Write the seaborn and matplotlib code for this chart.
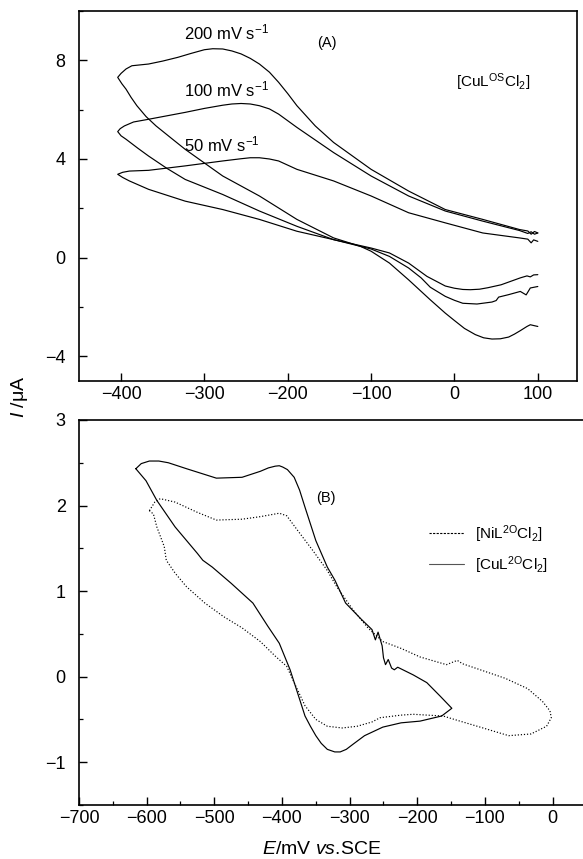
"""Cyclic voltammograms: scan-rate series (A) and Ni/Cu comparison (B)."""

import matplotlib
matplotlib.use("Agg")
import matplotlib.pyplot as plt
from matplotlib.lines import Line2D
from matplotlib.ticker import MultipleLocator
import seaborn as sns


# panel A: [CuL(OS)Cl2] at three scan rates, path goes 100 mV -> -404 mV -> 100 mV
E_200 = [100, 96, 92, 88, 78, 34, -11, -55, -100, -145, -167, -189, -200, -211, -222, -234,
         -245, -256, -267, -278, -290, -300, -316, -332, -350, -367, -387, -394, -400, -404,
         -399, -394, -388, -381, -370, -358, -340, -323, -278, -234, -189, -145, -113, -100,
         -78, -55, -29, -11, 0, 12, 25, 35, 45, 55, 65, 72, 79, 87, 91, 96, 100]
I_200 = [1.0, 1.06, 0.95, 1.08, 1.14, 1.55, 1.95, 2.70, 3.58, 4.67, 5.34, 6.16, 6.65, 7.11, 7.52, 7.85,
         8.08, 8.26, 8.38, 8.46, 8.47, 8.43, 8.28, 8.12, 7.97, 7.85, 7.78, 7.65, 7.47, 7.31,
         7.05, 6.83, 6.50, 6.16, 5.72, 5.34, 4.85, 4.39, 3.31, 2.50, 1.55, 0.80, 0.46, 0.26,
         -0.22, -0.90, -1.71, -2.25, -2.55, -2.87, -3.12, -3.25, -3.30, -3.29, -3.22, -3.10, -2.96,
         -2.79, -2.72, -2.76, -2.79]

E_100 = [100, 96, 92, 88, 78, 34, -11, -55, -100, -145, -189, -211, -222, -234, -245, -256,
         -267, -278, -300, -323, -367, -385, -396, -401, -404,
         -400, -394, -380, -367, -345, -323, -278, -234, -189, -145, -100, -78, -55, -40, -29,
         -11, 0, 10, 27, 45, 50, 53, 65, 79, 86, 91, 100]
I_100 = [1.0, 0.95, 1.05, 0.98, 1.10, 1.48, 1.89, 2.50, 3.31, 4.26, 5.28, 5.82, 6.03, 6.16, 6.23, 6.25,
         6.23, 6.18, 6.05, 5.89, 5.61, 5.50, 5.34, 5.23, 5.11,
         4.94, 4.80, 4.44, 4.12, 3.62, 3.17, 2.56, 1.89, 1.27, 0.73, 0.35, 0.05, -0.42, -0.82, -1.20,
         -1.57, -1.73, -1.85, -1.88, -1.80, -1.74, -1.60, -1.50, -1.37, -1.51, -1.23, -1.17]

E_50 = [100, 95, 92, 88, 78, 34, -11, -55, -100, -145, -189, -211, -222, -234, -245, -256,
        -278, -323, -367, -390, -398, -404,
        -398, -390, -367, -323, -278, -234, -189, -145, -100, -78, -55, -33, -11, 0, 10, 19,
        30, 40, 56, 79, 87, 91, 95, 100]
I_50 = [0.66, 0.72, 0.60, 0.75, 0.80, 1.00, 1.41, 1.82, 2.50, 3.11, 3.58, 3.92, 4.00, 4.05, 4.05, 4.01,
        3.92, 3.72, 3.54, 3.51, 3.46, 3.38,
        3.25, 3.11, 2.77, 2.29, 1.95, 1.55, 1.07, 0.73, 0.39, 0.19, -0.22, -0.76, -1.15, -1.24, -1.29, -1.30,
        -1.28, -1.22, -1.10, -0.82, -0.74, -0.78, -0.70, -0.69]

RATE_LABELS = ["200 mV s$^{-1}$", "100 mV s$^{-1}$", "50 mV s$^{-1}$"]

# panel B: [CuL(2O)Cl2] (solid) and [NiL(2O)Cl2] (dotted)
E_CU = [-616, -608, -596, -582, -568, -541, -497, -459, -432, -420, -410, -404, -399, -392,
        -382, -374, -366, -350, -333, -322, -306, -284, -267, -262, -258, -252, -250, -247,
        -243, -238, -234, -229, -206, -186, -166, -149,
        -164, -196, -224, -251, -278, -295, -305, -314, -322, -333, -342, -350, -358, -366,
        -377, -388, -404, -421, -443, -475, -503, -517, -525, -558, -585, -601, -616]
I_CU = [2.43, 2.49, 2.52, 2.52, 2.50, 2.43, 2.32, 2.33, 2.40, 2.44, 2.46, 2.465, 2.45, 2.42,
        2.33, 2.18, 1.98, 1.59, 1.28, 1.13, 0.86, 0.68, 0.55, 0.43, 0.52, 0.36, 0.22, 0.14,
        0.20, 0.10, 0.08, 0.11, 0.02, -0.07, -0.23, -0.37,
        -0.46, -0.52, -0.54, -0.59, -0.69, -0.79, -0.85, -0.88, -0.88, -0.85, -0.78, -0.69, -0.58, -0.46,
        -0.19, 0.08, 0.39, 0.59, 0.86, 1.09, 1.28, 1.36, 1.44, 1.75, 2.06, 2.29, 2.43]

E_NI = [-596, -588, -580, -558, -525, -497, -459, -432, -404, -393, -377, -355, -333, -319, -295,
        -273, -251, -224, -196, -157, -141, -133, -107, -70, -37, -15, -4, -2,
        -9, -32, -65, -103, -137, -162, -185, -206, -224, -255, -267, -289, -311, -333, -350,
        -366, -382, -393, -410, -432, -459, -486, -514, -541, -558, -571, -574, -585, -590, -596]
I_NI = [1.94, 2.04, 2.08, 2.04, 1.92, 1.83, 1.84, 1.87, 1.91, 1.88, 1.71, 1.48, 1.24, 1.05, 0.78,
        0.57, 0.41, 0.33, 0.23, 0.14, 0.19, 0.15, 0.08, -0.02, -0.14, -0.29, -0.40, -0.48,
        -0.58, -0.67, -0.69, -0.60, -0.52, -0.46, -0.45, -0.44, -0.45, -0.48, -0.53, -0.58, -0.60, -0.58, -0.50,
        -0.34, -0.07, 0.12, 0.24, 0.41, 0.57, 0.70, 0.86, 1.05, 1.21, 1.36, 1.52, 1.75, 1.90, 1.94]

DOTTED = (0, (1, 1.6))


def setup_style():
    sns.set_theme(style="ticks")
    plt.rcParams["font.family"] = ["Liberation Sans", "DejaVu Sans"]
    plt.rcParams["mathtext.fontset"] = "custom"
    plt.rcParams["mathtext.rm"] = "Liberation Sans"
    plt.rcParams["mathtext.it"] = "Liberation Sans:italic"
    plt.rcParams["mathtext.bf"] = "Liberation Sans:bold"
    plt.rcParams["text.color"] = "black"
    plt.rcParams["axes.edgecolor"] = "black"
    plt.rcParams["axes.linewidth"] = 1.2


def style_axis(ax):
    ax.tick_params(which="both", direction="in", colors="black", labelsize=13,
                   top=False, right=False)
    ax.tick_params(which="major", length=6, width=1.0)
    ax.tick_params(which="minor", length=3, width=0.9)
    ax.tick_params(axis="x", pad=3.5)
    ax.tick_params(axis="y", pad=9.5)
    ax.set_xlabel("")
    ax.set_ylabel("")


def draw(ax, e, i, **kw):
    sns.lineplot(x=e, y=i, ax=ax, sort=False, estimator=None, color="black",
                 linewidth=0.85, legend=False, **kw)


def main():
    setup_style()
    fig = plt.figure(figsize=(5.83, 8.59), dpi=100)
    ax_a = fig.add_axes([0.1347, 0.5565, 0.855, 0.4307])
    ax_b = fig.add_axes([0.1355, 0.0629, 0.8937, 0.4482])

    # (A)
    for e, i in [(E_200, I_200), (E_100, I_100), (E_50, I_50)]:
        draw(ax_a, e, i)
    ax_a.set_xlim(-451, 147)
    ax_a.set_ylim(-5, 10)
    ax_a.xaxis.set_major_locator(MultipleLocator(100))
    ax_a.yaxis.set_major_locator(MultipleLocator(4))
    ax_a.yaxis.set_minor_locator(MultipleLocator(2))
    style_axis(ax_a)
    for lab, y in zip(RATE_LABELS, [9.13, 6.81, 4.57]):
        ax_a.text(-324, y, lab, fontsize=12, va="center", ha="left")
    ax_a.text(-165, 8.72, "(A)", fontsize=10.5, va="center", ha="left")
    ax_a.text(2, 7.12, r"[CuL$^{\mathrm{OS}}$Cl$_2$]", fontsize=11, va="center", ha="left")

    # (B)
    draw(ax_b, E_NI, I_NI, linestyle=DOTTED)
    draw(ax_b, E_CU, I_CU)
    ax_b.set_xlim(-700, 70)
    ax_b.set_ylim(-1.5, 3)
    ax_b.xaxis.set_major_locator(MultipleLocator(100))
    ax_b.xaxis.set_minor_locator(MultipleLocator(50))
    ax_b.yaxis.set_major_locator(MultipleLocator(1))
    ax_b.yaxis.set_minor_locator(MultipleLocator(0.5))
    style_axis(ax_b)
    ax_b.text(-350, 2.09, "(B)", fontsize=10.5, va="center", ha="left")
    handles = [Line2D([], [], color="black", lw=0.8, ls=(0, (2, 1.2))),
               Line2D([], [], color="#555555", lw=0.8)]
    ax_b.legend(handles, [r"[NiL$^{\mathrm{2O}}$Cl$_2$]", r"[CuL$^{\mathrm{2O}}$Cl$_2$]"],
                loc="upper left", bbox_to_anchor=(0.672, 0.732), frameon=False,
                fontsize=11, handlelength=2.3, handletextpad=0.7, labelspacing=0.6,
                borderpad=0, borderaxespad=0)

    fig.text(0.034, 0.538, r"$I$ /μA", rotation=90, ha="center", va="center", fontsize=14)
    fig.text(0.552, 0.0105, r"$E$/mV $vs$.SCE", ha="center", va="center", fontsize=14)

    fig.savefig("out.png", dpi=100)
    plt.close(fig)


if __name__ == "__main__":
    main()
